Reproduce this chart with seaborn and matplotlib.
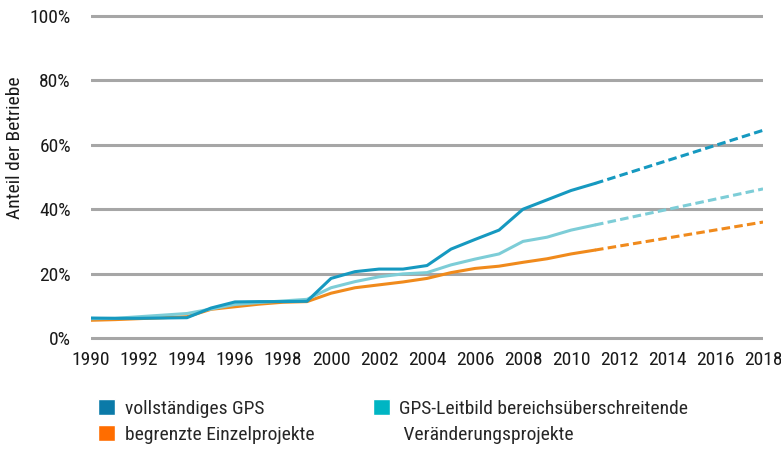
import matplotlib
matplotlib.use("Agg")
import matplotlib.pyplot as plt
from matplotlib.patches import Patch
import pandas as pd
import seaborn as sns

# observed values 1990-2011 (percent of companies)
years = list(range(1990, 2012))
full_gps = [6.2, 6.1, 6.1, 6.2, 6.3, 9.3, 11.2, 11.3, 11.3, 11.4,
            18.5, 20.6, 21.4, 21.4, 22.5, 27.6, 30.6, 33.5, 40.0, 42.9, 45.8, 48.0]
leitbild = [6.0, 6.1, 6.6, 7.1, 7.6, 9.0, 10.4, 11.0, 11.5, 12.0,
            15.6, 17.5, 19.0, 19.9, 20.3, 22.7, 24.5, 26.1, 30.0, 31.3, 33.5, 35.1]
einzel = [5.5, 5.7, 6.0, 6.3, 6.6, 8.9, 9.7, 10.5, 11.1, 11.3,
          13.9, 15.6, 16.5, 17.4, 18.5, 20.3, 21.6, 22.3, 23.5, 24.6, 26.1, 27.3]

# projection 2011 -> 2018
proj_years = [2011, 2018]
full_gps_proj = [48.0, 64.5]
leitbild_proj = [35.1, 46.3]
einzel_proj = [27.3, 36.0]

series_names = ["vollständiges GPS", "GPS-Leitbild", "begrenzte Einzelprojekte"]
line_colors = {"vollständiges GPS": "#1699c0",
               "GPS-Leitbild": "#7dcdd7",
               "begrenzte Einzelprojekte": "#f08a1c"}
legend_colors = ["#0b7aa8", "#ff6d00", "#00b5c3"]


def build_frame():
    rows = []
    for name, obs, proj in zip(series_names,
                               [full_gps, leitbild, einzel],
                               [full_gps_proj, leitbild_proj, einzel_proj]):
        for y, v in zip(years, obs):
            rows.append({"Jahr": y, "Anteil": v, "Reihe": name, "Phase": "beobachtet"})
        for y, v in zip(proj_years, proj):
            rows.append({"Jahr": y, "Anteil": v, "Reihe": name, "Phase": "Prognose"})
    return pd.DataFrame(rows)


df = build_frame()

sns.set_style("white")
plt.rcParams["font.family"] = ["Roboto Condensed", "DejaVu Sans"]

fig = plt.figure(figsize=(7.81, 4.51), dpi=100)
ax = fig.add_axes([0.1165, 0.2399, 0.8605, 0.7353])

# draw back to front so the dark line sits on top
sns.lineplot(data=df, x="Jahr", y="Anteil", hue="Reihe", style="Phase",
             hue_order=["begrenzte Einzelprojekte", "GPS-Leitbild", "vollständiges GPS"],
             palette=line_colors,
             dashes={"beobachtet": "", "Prognose": (2.8, 1.4)},
             linewidth=2.2, legend=False, ax=ax, zorder=3)

ax.set_xlim(1990, 2018)
ax.set_ylim(-1.5, 101.5)
ax.set_xticks(range(1990, 2019, 2))
ax.set_yticks(range(0, 101, 20))
ax.set_yticklabels([f"{v}%" for v in range(0, 101, 20)])
ax.yaxis.grid(True, color="#a6a6a6", linewidth=2.2, zorder=0)
ax.xaxis.grid(False)
ax.set_axisbelow(True)
for s in ax.spines.values():
    s.set_visible(False)
ax.tick_params(axis="both", length=0, labelsize=14, colors="#1a1a1a")
ax.tick_params(axis="y", pad=14.4)
ax.tick_params(axis="x", pad=6)
ax.set_xlabel("")
ax.set_ylabel("Anteil der Betriebe", fontsize=14, color="#1a1a1a")
ax.yaxis.set_label_coords(-0.0997, 0.589)

handles = [Patch(facecolor=legend_colors[0]),
           Patch(facecolor=legend_colors[1]),
           Patch(facecolor=legend_colors[2]),
           Patch(facecolor="none", edgecolor="none")]
labels = ["vollständiges GPS", "begrenzte Einzelprojekte",
          "GPS-Leitbild bereichsüberschreitende", " Veränderungsprojekte"]
fig.legend(handles, labels, ncol=2, loc="upper left",
           bbox_to_anchor=(0.1153, 0.132), frameon=False,
           fontsize=14, handlelength=0.88, handleheight=0.88,
           handletextpad=0.5, columnspacing=3.0, labelspacing=0.38,
           borderaxespad=0)

fig.savefig("out.png", dpi=100)
